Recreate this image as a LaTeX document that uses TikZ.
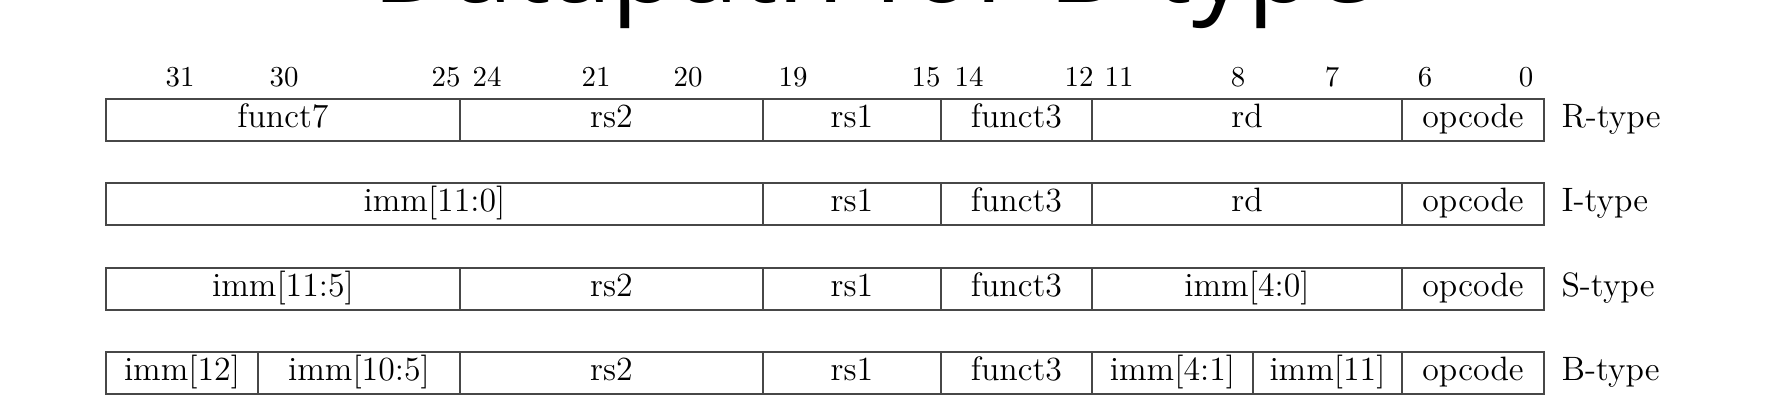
\documentclass[tikz,border=0pt]{standalone}
\usepackage{fontspec}
\usepackage{tikz}
\usetikzlibrary{positioning}
\newfontfamily\titlefont{Open Sans}
\definecolor{boxgray}{gray}{0.28}

% one instruction format: name, top edge, fields left/right/text
\newcommand{\fmtrow}[3]{%
 \foreach \l/\r/\t [count=\i] in {#3} {
 \draw[field] (\l,#2) rectangle (\r,#2+42);
 \node[fieldtext] (#1\i) at ({(\l+\r)/2},#2+28) {\t};
 }
}

\begin{document}
\begin{tikzpicture}[x=0.3636pt,y=-0.3636pt]
 \tikzstyle{field}=[draw=boxgray,line width=0.8pt]
 \tikzstyle{fieldtext}=[anchor=base,inner sep=0pt,font=\fontsize{12.3}{14}\selectfont]
 \tikzstyle{bitnum}=[anchor=base,inner sep=0pt,font=\fontsize{10.5}{12}\selectfont]
 \tikzstyle{typelabel}=[anchor=base west,inner sep=0pt,font=\fontsize{12.3}{14}\selectfont]
 \useasboundingbox (0,0) rectangle (1787,417);

 \node[anchor=base,inner sep=0pt,font=\titlefont\fontsize{39.6}{46}\selectfont]
 (title) at (874,2) {Datapath for B-type};

 % bit positions
 \foreach \b/\x in {31/180,30/284,25/446,24/487,21/596,20/688,19/793,
 15/926,14/969,12/1079,11/1119,8/1238,7/1332,6/1425,0/1526}
 \node[bitnum] (bit\b) at (\x,86) {\b};

 \fmtrow{R}{99}{106/460/funct7,460/763/rs2,763/941/rs1,941/1092/funct3,
 1092/1402/rd,1402/1544/opcode}
 \fmtrow{I}{183}{106/763/imm[11:0],763/941/rs1,941/1092/funct3,
 1092/1402/rd,1402/1544/opcode}
 \fmtrow{S}{268}{106/460/imm[11:5],460/763/rs2,763/941/rs1,941/1092/funct3,
 1092/1402/imm[4:0],1402/1544/opcode}
 \fmtrow{B}{352}{106/258/imm[12],258/460/imm[10:5],460/763/rs2,763/941/rs1,
 941/1092/funct3,1092/1253/imm[4:1],1253/1402/imm[11],1402/1544/opcode}

 \node[typelabel] (Rtype) at (1561,127) {R-type};
 \node[typelabel] (Itype) at (1561,211) {I-type};
 \node[typelabel] (Stype) at (1561,296) {S-type};
 \node[typelabel] (Btype) at (1561,380) {B-type};
\end{tikzpicture}
\end{document}
